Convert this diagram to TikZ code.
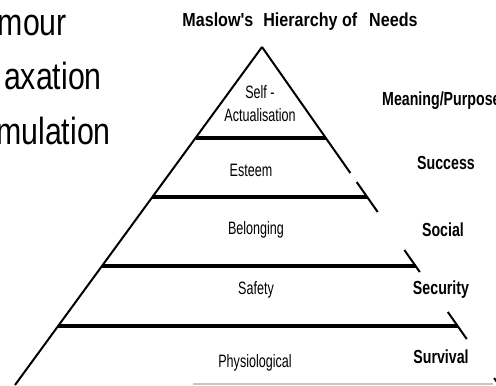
\documentclass[tikz,border=0pt]{standalone}
\usepackage{fontspec}
\setmainfont{Liberation Sans}
\newfontfamily\sidefont[FakeStretch=0.8]{Liberation Sans}
\newfontfamily\lvlfont[FakeStretch=0.7]{Liberation Sans}
\newfontfamily\needfont[FakeStretch=0.75]{Liberation Sans}
\newfontfamily\titlefont[FakeStretch=0.85]{Liberation Sans}
\usetikzlibrary{calc}
\tikzset{
  sidetext/.style={font=\sidefont\fontsize{38}{40}\selectfont, inner sep=0, anchor=base east},
  lvltext/.style={font=\lvlfont\fontsize{18}{23}\selectfont, inner sep=0, align=center},
  needtext/.style={font=\needfont\bfseries\fontsize{19}{21}\selectfont, inner sep=0},
  titletext/.style={font=\titlefont\bfseries\fontsize{19}{21}\selectfont, inner sep=0},
  pyredge/.style={line width=2bp},
  tierline/.style={line width=4bp},
  frameline/.style={line width=1.5bp, draw=black!22},
}
\begin{document}
\begin{tikzpicture}[x=1bp,y=-1bp]
\useasboundingbox (0,0) rectangle (496,385);
\clip (0,0) rectangle (496,385);
% left text fragments
\node[sidetext] (t1) at (67,35) {mour};
\node[sidetext] (t2) at (102,89) {axation};
\node[sidetext] (t3) at (111,144) {mulation};
% title
\node[titletext] (title) at (300,22) {Maslow's\hspace{10bp}Hierarchy of\hspace{12bp}Needs};
% pyramid geometry
\coordinate (A) at (262,47);
\coordinate (L) at (15,385);
\coordinate (R) at (499,385);
\draw[pyredge] (A) -- (L);
\foreach \a/\b in {0/0.3728, 0.3994/0.4882, 0.6006/0.6657, 0.7840/0.8639, 0.9793/1}
  \draw[pyredge] ($(A)!\a!(R)$) -- ($(A)!\b!(R)$);
\foreach \t in {0.2692, 0.4438, 0.6479, 0.8254}
  \draw[tierline] ($(A)!\t!(L)$) -- ($(A)!\t!(R)$);
% bottom frame line
\coordinate (f1) at (193,384);
\coordinate (f2) at (493,384);
\draw[frameline] (f1) -- (f2);
% level labels
\node[lvltext] (self) at (260,104) {Self -\\Actualisation};
\node[lvltext] (esteem) at (251,170) {Esteem};
\node[lvltext] (belong) at (256,230) {Belonging};
\node[lvltext] (safety) at (256,290) {Safety};
\node[lvltext] (phys) at (255,363) {Physiological};
% needs labels
\node[needtext, anchor=west] (meaning) at (382,101) {Meaning/Purpose};
\node[needtext] (success) at (446,163) {Success};
\node[needtext] (social) at (443,230) {Social};
\node[needtext] (security) at (441,290) {Security};
\node[needtext] (survival) at (441,357) {Survival};
\end{tikzpicture}
\end{document}
